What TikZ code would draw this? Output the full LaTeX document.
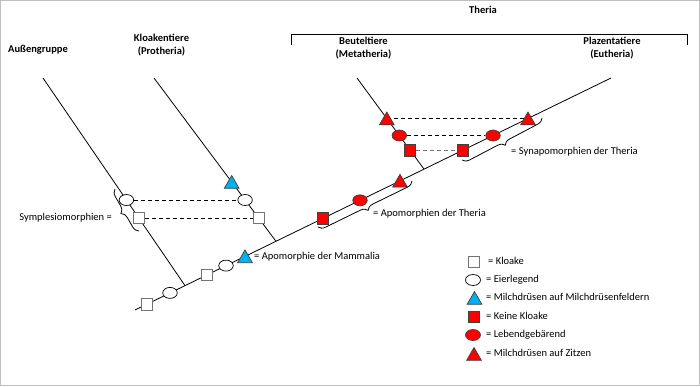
\documentclass[tikz,border=0pt]{standalone}
\usepackage{fontspec}
\setmainfont{Carlito}
\usetikzlibrary{shapes.geometric,decorations.pathreplacing,backgrounds}
\definecolor{mblue}{RGB}{0,176,240}
\definecolor{mred}{RGB}{255,0,0}
\begin{document}
\begin{tikzpicture}[x=1pt,y=-1pt,
  every node/.style={font=\fontsize{10.5}{13}\selectfont},
  sym/.style={draw, line width=0.7pt, inner sep=0pt},
  sqw/.style={sym, rectangle, minimum size=11.5pt, fill=white, draw=black!55},
  elw/.style={sym, ellipse, minimum width=14.5pt, minimum height=11pt, fill=white},
  trib/.style={sym, regular polygon, regular polygon sides=3, minimum size=17pt, yshift=-2pt, fill=mblue, draw=black!75},
  sqr/.style={sym, rectangle, minimum size=11.5pt, fill=mred, draw=black!75},
  elr/.style={sym, ellipse, minimum width=14.5pt, minimum height=11pt, fill=mred, draw=black!75},
  trir/.style={sym, regular polygon, regular polygon sides=3, minimum size=17pt, yshift=-2pt, fill=mred, draw=black!75},
  lbl/.style={font=\bfseries\fontsize{10.5}{13}\selectfont, align=center, inner sep=0pt},
  txt/.style={anchor=west, inner sep=0pt, text height=7pt, text depth=2pt},
  branch/.style={line width=0.8pt},
  link/.style={line width=0.8pt, dash pattern=on 4pt off 3pt},
  brc/.style={decorate, decoration={brace, amplitude=7pt}, line width=0.8pt}
]
\useasboundingbox (0,0) rectangle (700,386);

% tree coordinates
\coordinate (M0) at (135,310);
\coordinate (M1) at (611,78);
\coordinate (A0) at (43,78);
\coordinate (J1) at (185,285.6);
\coordinate (K0) at (154,78);
\coordinate (J2) at (276,241.3);
\coordinate (B0) at (357,78);
\coordinate (J3) at (424,169.1);

% branches
\draw[branch] (M0) -- (M1);
\draw[branch] (A0) -- (J1);
\draw[branch] (K0) -- (J2);
\draw[branch] (B0) -- (J3);

% symbols on Aussengruppe
\node[elw] (ae) at (126.4,200) {};
\node[sqw] (as) at (138.8,218) {};
% symbols on Kloakentiere
\node[trib] (kt) at (231.7,182) {};
\node[elw] (ke) at (245.1,200) {};
\node[sqw] (ks) at (258.6,218) {};
% symbols on main line
\node[sqw] (m1) at (147,304.2) {};
\node[elw] (m2) at (170,292.9) {};
\node[sqw] (m3) at (207,274.9) {};
\node[elw] (m4) at (226,265.6) {};
\node[trib] (m5) at (245,256.4) {};
\node[sqr] (m6) at (323,218.4) {};
\node[elr] (m7) at (360,200.3) {};
\node[trir] (m8) at (400,180.8) {};
\node[sqr] (ps) at (463,150.1) {};
\node[elr] (pe) at (493,135.5) {};
\node[trir] (pt) at (528,118.5) {};
% symbols on Beuteltiere
\node[trir] (bt) at (386.8,118.5) {};
\node[elr] (be) at (399.3,135.5) {};
\node[sqr] (bs) at (410,150.1) {};

% dashed links
\draw[link] (ae) -- (ke);
\draw[link] (as) -- (ks);
\draw[link] (be) -- (pe);
\draw[link, black!55, line width=1pt] (bs) -- (ps);
\begin{pgfonlayer}{background}
\fill[white] (0,0) rectangle (700,386);
\draw[link] ([yshift=2pt]bt.center) -- ([yshift=2pt]pt.center);
\end{pgfonlayer}
\draw[black!25, line width=1pt] (0.5,0.5) rectangle (699.5,385.5);

% braces
\draw[brc] (139,231) -- (115,189);
\draw[brc] (412,181) -- (318,227);
\draw[brc] (542,118) -- (462,160);

% brace labels
\node[txt, anchor=east] (lsym) at (112,218) {Symplesiomorphien =};
\node[txt] (lmam) at (254,257) {= Apomorphie der Mammalia};
\node[txt] (lapo) at (373,214) {= Apomorphien der Theria};
\node[txt] (lsyn) at (511,152) {= Synapomorphien der Theria};

% taxon labels
\node[lbl] (tau) at (38,50) {Außengruppe};
\node[lbl] (tkl) at (161.5,45.5) {Kloakentiere\\(Protheria)};
\node[lbl] (tbe) at (363.5,48.5) {Beuteltiere\\(Metatheria)};
\node[lbl] (tpl) at (612,48.5) {Plazentatiere\\(Eutheria)};
\node[lbl] (tth) at (483,10) {Theria};
\coordinate (th0) at (291,45);
\coordinate (th1) at (687,45);
\draw[line width=0.8pt] (th0) -- (291,34) -- (687,34) -- (th1);

% legend
\node[sqw] (g1) at (474,262) {};
\node[elw, minimum width=15pt] (g2) at (473,280) {};
\node[trib] (g3) at (474.5,298) {};
\node[sqr] (g4) at (474,317) {};
\node[elr, minimum width=15pt] (g5) at (473,335) {};
\node[trir] (g6) at (474,354) {};
\node[txt] (t1) at (488,262) {= Kloake};
\node[txt] (t2) at (486,280) {= Eierlegend};
\node[txt] (t3) at (486,298) {= Milchdrüsen auf Milchdrüsenfeldern};
\node[txt] (t4) at (486,317) {= Keine Kloake};
\node[txt] (t5) at (486,335) {= Lebendgebärend};
\node[txt] (t6) at (486,354) {= Milchdrüsen auf Zitzen};
\end{tikzpicture}
\end{document}
